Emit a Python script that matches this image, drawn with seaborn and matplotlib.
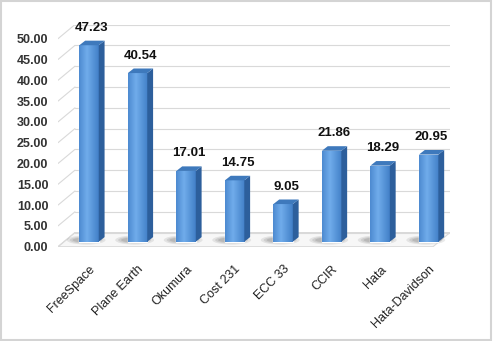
import numpy as np
import pandas as pd
import matplotlib.pyplot as plt
import matplotlib.patches as mpatches
import seaborn as sns

# dados do grafico
modelos = ['FreeSpace', 'Plane Earth', 'Okumura', 'Cost 231', 'ECC 33', 'CCIR', 'Hata', 'Hata-Davidson']
valores = [47.23, 40.54, 17.01, 14.75, 9.05, 21.86, 18.29, 20.95]
marcas_y = [0, 5, 10, 15, 20, 25, 30, 35, 40, 45, 50]

sns.set_theme(style="white")
plt.rcParams['font.family'] = ['Liberation Sans', 'DejaVu Sans']

dados = pd.DataFrame({'modelo': modelos, 'valor': valores})

fig = plt.figure(figsize=(4.93, 3.41), dpi=100)
ax = fig.add_axes([58 / 493, 1 - 246.7 / 341, 392 / 493, (246.7 - 25.4) / 341])
ax.set_facecolor('none')

sns.barplot(data=dados, x='modelo', y='valor', color='#4F8FD6', saturation=1,
            width=0.40, ax=ax, zorder=3)
barras = list(ax.patches)

# profundidade da parede / chao (efeito 3D)
wx, wy = 0.35, 3.4
frente, fundo = -1.2, 2.2
x0, x1 = -0.64, 7.44

chao = mpatches.Polygon([(x0, frente), (x1 - wx, frente), (x1, fundo), (x0 + wx, fundo)],
                        closed=True, facecolor='#f7f7f7', edgecolor='#d9d9d9', lw=0.8, zorder=1)
ax.add_patch(chao)
for v in marcas_y:
    ax.plot([x0 + wx, x1], [v + fundo] * 2, color='#d9d9d9', lw=0.8, zorder=1)
    ax.plot([x0, x0 + wx], [v + frente, v + fundo], color='#d9d9d9', lw=0.8, zorder=1)

# gradiente, lateral e topo das barras
grad = np.interp(np.linspace(0, 1, 60), [0, 0.4, 1], [0.35, 1.0, 0.15])[None, :]
cmap = sns.blend_palette(['#3A78C2', '#70ACEB'], as_cmap=True)
dx, dy = 0.12, 1.1
for barra, v in zip(barras, valores):
    xb, wb, hb = barra.get_x(), barra.get_width(), barra.get_height()
    for k, a in enumerate([0.12, 0.14, 0.18]):
        sombra = mpatches.Ellipse((xb + wb * 0.35, 0.4), wb * (2.0 - 0.3 * k), 2.2 - 0.5 * k,
                                  color='#555555', alpha=a, lw=0, zorder=2)
        ax.add_patch(sombra)
    img = ax.imshow(grad, extent=[xb, xb + wb, 0, hb], aspect='auto', cmap=cmap,
                    vmin=0, vmax=1, zorder=3.1, interpolation='bilinear')
    img.set_clip_path(barra)
    lado = mpatches.Polygon([(xb + wb, 0), (xb + wb + dx, dy), (xb + wb + dx, hb + dy), (xb + wb, hb)],
                            closed=True, facecolor='#2D5F9C', lw=0, zorder=3.2)
    topo = mpatches.Polygon([(xb, hb), (xb + wb, hb), (xb + wb + dx, hb + dy), (xb + dx, hb + dy)],
                            closed=True, facecolor='#3E79BC', lw=0, zorder=3.2)
    ax.add_patch(lado)
    ax.add_patch(topo)
    ax.annotate(f"{v:.2f}", (xb + (wb + dx) / 2, hb + dy), xytext=(0, 5), textcoords='offset points',
                ha='center', va='bottom', fontsize=9.5, fontweight='bold', color='#111111')

ax.set_xlim(x0, x1)
ax.set_ylim(-1.2, 52)
ax.set_yticks([v + frente for v in marcas_y])
ax.set_yticklabels([f"{v:.2f}" for v in marcas_y], fontsize=9, fontweight='bold', color='#333333')
ax.set_xticks(range(len(modelos)))
ax.set_xticklabels(modelos, rotation=45, ha='right', rotation_mode='anchor', fontsize=9, color='#222222')
ax.tick_params(axis='y', length=0, pad=7)
ax.tick_params(axis='x', length=0, pad=12)
ax.set_xlabel('')
ax.set_ylabel('')
sns.despine(ax=ax, left=True, bottom=True)

moldura = mpatches.Rectangle((0.003, 0.004), 0.993, 0.992, transform=fig.transFigure,
                             fill=False, edgecolor='#d4d4d4', lw=1.5)
fig.patches.append(moldura)

fig.savefig('out.png', dpi=100)
